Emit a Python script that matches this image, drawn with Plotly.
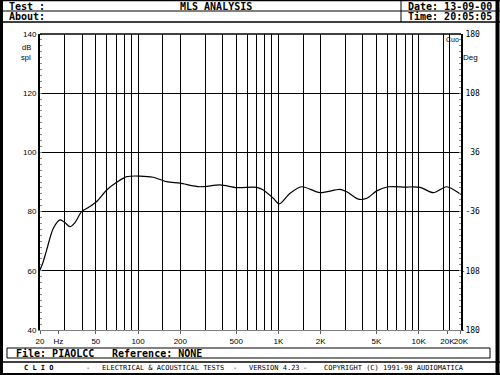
import math
import plotly.graph_objects as go

# ---------------- data ----------------
FREQ_HZ = [20, 21, 22.3, 24.9, 27.8, 30.1, 32.7, 35.5, 39.6, 45, 50.7, 59.8, 70.4, 83,
           103, 128, 160, 199, 276, 384, 505, 701, 781, 920, 1015, 1210, 1466, 1980,
           2750, 3070, 3710, 4270, 5020, 6080, 8000, 10220, 12700, 15840, 19700, 20000]
SPL_DB = [60.3, 62.8, 67.0, 74.4, 77.2, 76.3, 74.9, 76.3, 80.0, 81.6, 83.4, 87.3, 89.9, 91.8,
          92.0, 91.6, 90.1, 89.6, 88.4, 89.0, 88.1, 88.2, 87.3, 84.5, 82.6, 86.2, 88.4, 86.4,
          87.5, 86.7, 84.2, 84.5, 87.0, 88.4, 88.3, 88.2, 86.4, 88.4, 86.0, 85.8]

GRID_FREQS = [30, 40, 50, 60, 70, 80, 90, 100, 150, 200, 300, 400, 500, 600, 700, 800, 900,
              1000, 1500, 2000, 3000, 4000, 5000, 6000, 7000, 8000, 9000, 10000, 15000, 16500]
X_TICK_VALS = [20, 27, 50, 100, 200, 500, 1000, 2000, 5000, 10000, 16000, 20000]
X_TICK_TEXT = ["20", "Hz", "50", "100", "200", "500", "1K", "2K", "5K", "10K", "20K", "20K"]

Y_TICK_VALS = [40, 60, 80, 100, 120, 140]
PHASE_TICK_VALS = [-180, -108, -36, 36, 108, 180]
PHASE_TICK_TEXT = ["-180", "-108", "\u00a0-36", "\u00a0\u00a036", "\u00a0108", "\u00a0180"]

HEADER_TITLE = "MLS ANALYSIS"
DATE_TEXT = "Date: 13-09-00"
TIME_TEXT = "Time: 20:05:05"
FILE_TEXT = "File: PIAOLCC"
REF_TEXT = "Reference: NONE"
FOOTER_PARTS = ["C L I O", "-", "ELECTRICAL & ACOUSTICAL TESTS", "-", "VERSION 4.23", "-",
                "COPYRIGHT (C) 1991-98 AUDIOMATICA"]

# ---------------- geometry helpers (pixel -> paper) ----------------
W, H = 500, 375
L, R, T, B = 40, 39, 34, 45
PW, PH = W - L - R, H - T - B


def px(x):
    return (x - L) / PW


def py(y):
    return (H - B - y) / PH


MONO = "DejaVu Sans Mono"
SANS = "Liberation Sans"

fig = go.Figure()
fig.add_trace(go.Scatter(x=FREQ_HZ, y=SPL_DB, mode="lines",
                         line=dict(color="black", width=1.2, shape="spline", smoothing=0.8),
                         showlegend=False, hoverinfo="skip"))
# invisible trace to activate right phase axis
fig.add_trace(go.Scatter(x=[20], y=[0], yaxis="y2", mode="markers",
                         marker=dict(opacity=0), showlegend=False, hoverinfo="skip"))
# invisible trace to activate label x axis
fig.add_trace(go.Scatter(x=[20], y=[60], xaxis="x2", mode="markers",
                         marker=dict(opacity=0), showlegend=False, hoverinfo="skip"))

xr = [math.log10(20), math.log10(20000) + 0.0002]

fig.update_layout(
    width=W, height=H,
    margin=dict(l=L, r=R, t=T, b=B),
    paper_bgcolor="white", plot_bgcolor="white",
    xaxis=dict(type="log", range=xr, tickvals=GRID_FREQS, showticklabels=False,
               showgrid=True, gridcolor="black", gridwidth=1, ticks="",
               showline=True, linecolor="#808080", linewidth=1, zeroline=False),
    xaxis2=dict(type="log", range=xr, overlaying="x", side="bottom", anchor="y",
                tickvals=X_TICK_VALS, ticktext=X_TICK_TEXT, showgrid=False, tickangle=0,
                ticks="outside", ticklen=3, tickcolor="#606060",
                tickfont=dict(family=SANS, size=8, color="black"), zeroline=False),
    yaxis=dict(range=[40, 140], tickvals=Y_TICK_VALS, showgrid=True, gridcolor="black",
               gridwidth=1, showline=True, linecolor="black", linewidth=2, zeroline=False,
               ticks="", tickfont=dict(family=SANS, size=8, color="black"),
               minor=dict(dtick=2, ticks="inside", ticklen=2, tickcolor="#888888", showgrid=False)),
    yaxis2=dict(range=[-180, 180], overlaying="y", side="right", tickvals=PHASE_TICK_VALS,
                ticktext=PHASE_TICK_TEXT, showgrid=False, showline=True, linecolor="black",
                linewidth=2, zeroline=False, ticks="", ticklabelstandoff=-4,
                tickfont=dict(family=MONO, size=8, color="black"),
                minor=dict(dtick=7.2, ticks="inside", ticklen=2, tickcolor="#888888", showgrid=False)),
)

shapes = []


def line(x0, y0, x1, y1, w=1, c="black"):
    shapes.append(dict(type="line", xref="paper", yref="paper", x0=px(x0), y0=py(y0),
                       x1=px(x1), y1=py(y1), line=dict(color=c, width=w)))


# plot top border
line(40, 34, 461, 34, 1.5)
# outer frame
line(0, 0.5, 500, 0.5, 1.5)
line(1.5, 0, 1.5, 375, 3)
line(497.5, 0, 497.5, 375, 4)
line(0, 374, 500, 374, 2)
# header rows
line(0, 11, 500, 11, 1)
line(0, 22, 500, 22, 1.5)
line(401, 0, 401, 22, 1)
# file box
shapes.append(dict(type="rect", xref="paper", yref="paper", x0=px(7), y0=py(348),
                   x1=px(490), y1=py(358), line=dict(color="black", width=1)))
# footer
line(0, 362, 500, 362, 1.5)
fig.update_layout(shapes=shapes)

ann = []


def text(t, x, y, anchor="left", size=10, family=MONO, bold=True):
    ann.append(dict(text=t, xref="paper", yref="paper", x=px(x), y=py(y), xanchor=anchor,
                    yanchor="middle", showarrow=False,
                    font=dict(family=family, size=size, color="black",
                              weight="bold" if bold else "normal")))


text("Test :", 7, 6)
text(HEADER_TITLE, 216, 6, "center")
text(DATE_TEXT, 406, 6)
text("About:", 7, 16.5)
text(TIME_TEXT, 406, 16.5)
text("dB", 26, 48, "center", 7.5, SANS, False)
text("spl", 26, 57.5, "center", 7.5, SANS, False)
text("Deg", 470, 58, "center", 8, SANS, False)
text("Cuo", 452, 39, "center", 7, SANS, False)
text(FILE_TEXT, 14, 353)
text(REF_TEXT, 110, 353)
foot_x = [22, 88, 100, 235, 247, 305, 322]
foot_anchor = ["left", "center", "left", "center", "left", "center", "left"]
for t, x, a in zip(FOOTER_PARTS, foot_x, foot_anchor):
    text(t, x, 368, a, 7, MONO, t == "C L I O")
fig.update_layout(annotations=ann)

fig.write_html("out.html")
